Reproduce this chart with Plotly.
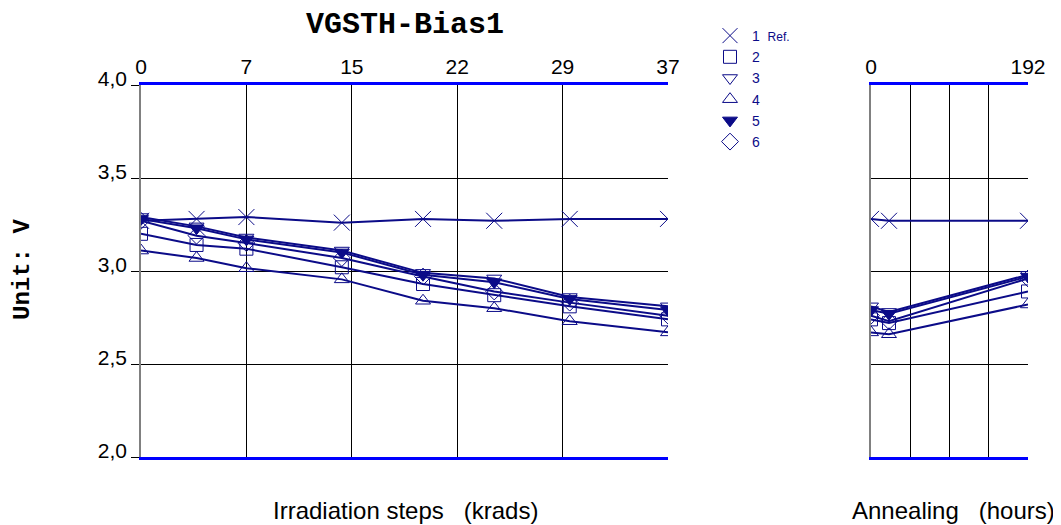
import plotly.graph_objects as go

# irradiation steps (krads) and annealing time (hours)
dose = [0, 3.9, 7.4, 14.1, 19.8, 24.8, 30.1, 37]
hours = [0, 22, 192]
dose_ticks = [0, 7.4, 14.8, 22.2, 29.6, 37]
dose_labels = ["0", "7", "15", "22", "29", "37"]
hour_ticks = [0, 48, 96, 144, 192]
hour_labels = ["0", "", "", "", "192"]

names = ["1  <span style='font-size:12px'>Ref.</span>", "2", "3", "4", "5", "6"]
symbols = ["x-thin-open", "square-open", "triangle-down-open", "triangle-up-open",
           "triangle-down", "diamond-open"]

irr = [
    [3.27, 3.28, 3.29, 3.26, 3.28, 3.27, 3.28, 3.28],
    [3.20, 3.14, 3.12, 3.02, 2.93, 2.87, 2.81, 2.74],
    [3.29, 3.24, 3.18, 3.11, 2.99, 2.96, 2.86, 2.81],
    [3.11, 3.07, 3.015, 2.955, 2.84, 2.80, 2.73, 2.67],
    [3.28, 3.23, 3.17, 3.10, 2.98, 2.94, 2.85, 2.79],
    [3.27, 3.19, 3.15, 3.07, 2.97, 2.89, 2.83, 2.76],
]
ann = [
    [3.28, 3.27, 3.27],
    [2.74, 2.72, 2.89],
    [2.81, 2.78, 2.98],
    [2.67, 2.66, 2.82],
    [2.79, 2.77, 2.97],
    [2.76, 2.73, 2.96],
]

NAVY = "#0b0b88"
fig = go.Figure()

for i in range(6):
    mk = dict(symbol=symbols[i], size=13, color=NAVY, line=dict(color=NAVY, width=1))
    if symbols[i] == "x-thin-open":
        mk["size"] = 16
    fig.add_trace(go.Scatter(x=dose, y=irr[i], mode="lines+markers", marker=mk,
                             line=dict(color=NAVY, width=2), showlegend=False,
                             xaxis="x", yaxis="y"))
    fig.add_trace(go.Scatter(x=hours, y=ann[i], mode="lines+markers", marker=mk,
                             line=dict(color=NAVY, width=2), showlegend=False,
                             xaxis="x2", yaxis="y2"))
    # legend entry, markers only
    fig.add_trace(go.Scatter(x=[None], y=[None], mode="markers", name=names[i],
                             marker=dict(mk, size=13 if i else 15), xaxis="x", yaxis="y"))

W, H = 1061, 525
OFF = 8  # page body margin shifts the whole figure
def px(v):
    return (v - OFF) / W
def py(v):
    return 1 - (v - OFF) / H

SANS = "Liberation Sans, Arial"
MONO = "Liberation Mono, Courier New"

xcommon = dict(side="top", showline=True, linecolor="#0000ff", linewidth=3, mirror=True,
               showgrid=True, gridcolor="black", gridwidth=1, ticks="", zeroline=False,
               tickfont=dict(family=SANS, size=21, color="black"))
ycommon = dict(range=[2, 4], dtick=0.5, showgrid=True, gridcolor="black", gridwidth=1,
               zeroline=False, showline=True, linecolor="#808080", linewidth=1.5,
               domain=[py(457), py(85)])

fig.update_layout(
    width=W, height=H,
    margin=dict(l=0, r=0, t=0, b=0, autoexpand=False),
    paper_bgcolor="white", plot_bgcolor="white",
    separators=",.",
    xaxis=dict(xcommon, domain=[px(141), px(668)], range=[0, 37],
               tickvals=dose_ticks, ticktext=dose_labels, anchor="y"),
    yaxis=dict(ycommon, anchor="x", tickformat=".1f", ticks="outside", ticklen=8,
               tickcolor="black", ticklabelshift=-6,
               tickfont=dict(family=SANS, size=21, color="black")),
    xaxis2=dict(xcommon, domain=[px(871), px(1028)], range=[0, 192],
                tickvals=hour_ticks, ticktext=hour_labels, anchor="y2"),
    yaxis2=dict(ycommon, anchor="x2", showticklabels=False),
    legend=dict(x=px(708), y=py(20), xanchor="left", yanchor="top",
                font=dict(family=SANS, size=14, color=NAVY),
                tracegroupgap=0, itemwidth=34, bgcolor="rgba(0,0,0,0)"),
    showlegend=True,
    font=dict(family=SANS),
)

fig.add_annotation(text="<b>VGSTH-Bias1</b>", x=px(405), y=py(25), xref="paper", yref="paper",
                   xanchor="center", yanchor="middle", showarrow=False,
                   font=dict(family=MONO, size=30, color="black"))
fig.add_annotation(text="<b>Unit: V</b>", x=px(22), y=py(270), xref="paper", yref="paper",
                   xanchor="center", yanchor="middle", showarrow=False, textangle=-90,
                   font=dict(family=MONO, size=24, color="black"))
fig.add_annotation(text="Irradiation steps   (krads)", x=px(405), y=py(510), xref="paper",
                   yref="paper", xanchor="center", yanchor="middle", showarrow=False,
                   font=dict(family=SANS, size=24, color="black"))
fig.add_annotation(text="Annealing   (hours)", x=px(953), y=py(510), xref="paper",
                   yref="paper", xanchor="center", yanchor="middle", showarrow=False,
                   font=dict(family=SANS, size=24, color="black"))

fig.write_html("out.html")
